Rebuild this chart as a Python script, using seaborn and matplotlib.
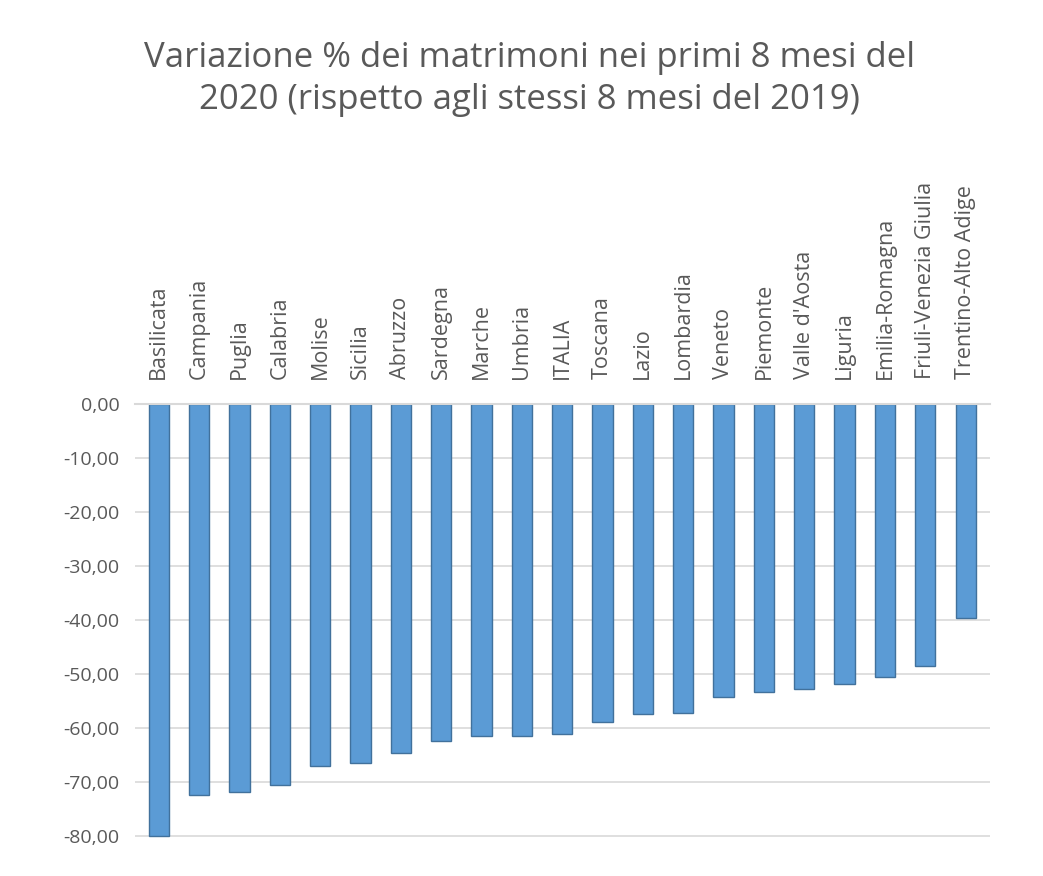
import matplotlib.pyplot as plt
import matplotlib.ticker as mticker
import seaborn as sns
import pandas as pd

regions = ["Basilicata", "Campania", "Puglia", "Calabria", "Molise", "Sicilia",
           "Abruzzo", "Sardegna", "Marche", "Umbria", "ITALIA", "Toscana", "Lazio",
           "Lombardia", "Veneto", "Piemonte", "Valle d'Aosta", "Liguria",
           "Emilia-Romagna", "Friuli-Venezia Giulia", "Trentino-Alto Adige"]
variazione = [-79.9, -72.4, -71.8, -70.5, -67.0, -66.4, -64.6, -62.3, -61.4, -61.4,
              -61.0, -58.8, -57.3, -57.1, -54.3, -53.2, -52.8, -51.9, -50.6, -48.5,
              -39.6]
yticks = [0, -10, -20, -30, -40, -50, -60, -70, -80]

df = pd.DataFrame({"regione": regions, "var": variazione})

sns.set_theme(style="white")
plt.rcParams['font.family'] = ['Open Sans', 'DejaVu Sans']
grey = "#595959"

fig = plt.figure(figsize=(10.43, 8.76), dpi=100)
ax = fig.add_axes([0.129, 0.039, 0.82, 0.50])
sns.barplot(data=df, x="regione", y="var", color="#5B9BD5", width=0.5,
            saturation=1, edgecolor="#41719C", linewidth=1.0, ax=ax)

ax.set_ylim(-81, 0)
ax.set_xlim(-0.6, len(regions) - 0.4)
ax.set_yticks(yticks)
ax.yaxis.set_major_formatter(mticker.FuncFormatter(lambda v, p: f"{v:.2f}".replace(".", ",")))
ax.xaxis.tick_top()
ax.tick_params(axis="x", labelrotation=90, labelsize=15.5, colors=grey, length=0, pad=18)
ax.tick_params(axis="y", labelsize=14, colors=grey, length=0, pad=11)
ax.yaxis.grid(True, color="#D9D9D9", linewidth=1.2)
ax.set_axisbelow(True)
for s in ["left", "right", "bottom"]:
    ax.spines[s].set_visible(False)
ax.spines["top"].set_color("#D9D9D9")
ax.spines["top"].set_linewidth(1.5)
ax.set_xlabel("")
ax.set_ylabel("")

fig.text(0.508, 0.91, "Variazione % dei matrimoni nei primi 8 mesi del\n2020 (rispetto agli stessi 8 mesi del 2019)",
         ha="center", va="center", fontsize=25, color=grey, linespacing=1.3)

fig.savefig("out.png", dpi=100)
